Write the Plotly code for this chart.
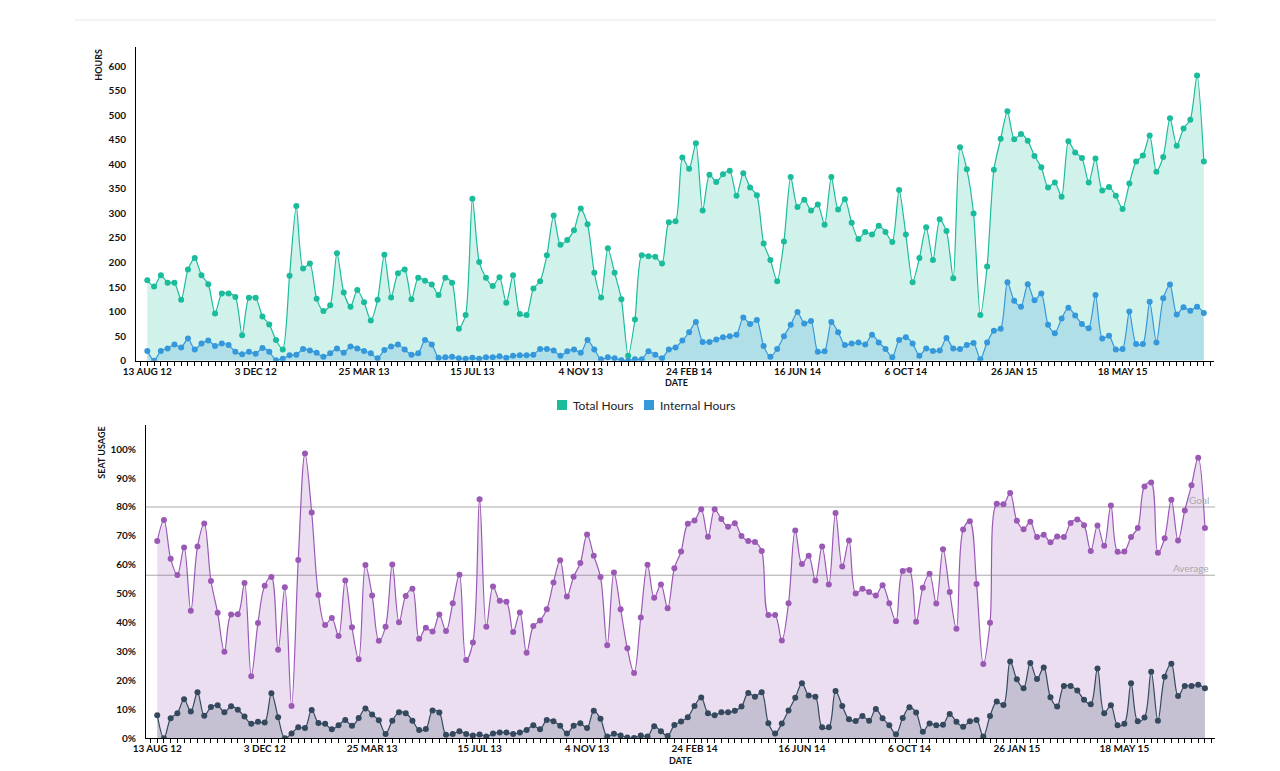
import pandas as pd
import plotly.graph_objects as go

# ---------------- data ----------------
START = "2012-08-13"
N_WEEKS = 157

total_hours = [164, 151, 174, 159, 159, 124, 186, 209, 174, 156, 96, 137, 137, 130, 52, 128, 128, 90, 74, 42,
               23, 173, 315, 188, 198, 126, 101, 113, 219, 139, 110, 144, 119, 82, 124, 216, 129, 178, 186, 125,
               169, 163, 155, 134, 169, 159, 65, 93, 330, 201, 169, 152, 170, 118, 174, 95, 93, 147, 162, 215,
               296, 236, 246, 266, 310, 278, 179, 129, 229, 179, 125, 10, 84, 215, 213, 212, 198, 282, 284, 414,
               391, 443, 306, 379, 364, 380, 387, 336, 382, 353, 337, 239, 205, 162, 243, 374, 313, 328, 306, 318,
               277, 374, 308, 329, 281, 248, 262, 257, 275, 262, 242, 348, 257, 160, 209, 272, 205, 288, 264, 168,
               435, 390, 300, 93, 192, 389, 452, 508, 451, 462, 448, 417, 394, 353, 363, 334, 447, 424, 413, 363,
               412, 347, 354, 336, 309, 361, 406, 418, 459, 385, 415, 494, 438, 473, 491, 581, 406]

internal_hours = [20, 0, 20, 25, 33, 27, 45, 23, 35, 41, 30, 35, 32, 18, 13, 18, 14, 26, 18, 1,
                  4, 11, 12, 24, 21, 16, 8, 15, 25, 16, 29, 25, 20, 15, 5, 22, 29, 33, 23, 12,
                  15, 42, 33, 6, 7, 8, 5, 4, 6, 4, 7, 7, 9, 6, 10, 11, 11, 12, 24, 24,
                  21, 10, 19, 23, 16, 42, 23, 3, 7, 5, 1, 0, 3, 3, 19, 12, 5, 23, 27, 41,
                  58, 79, 38, 38, 43, 48, 50, 53, 88, 75, 83, 30, 8, 24, 50, 73, 99, 76, 81, 18,
                  19, 79, 58, 32, 35, 37, 33, 53, 37, 24, 7, 42, 48, 35, 10, 25, 20, 21, 46, 25,
                  24, 32, 36, 3, 37, 61, 65, 160, 122, 110, 156, 123, 137, 73, 56, 86, 108, 92, 75, 66,
                  134, 45, 51, 23, 24, 100, 34, 34, 120, 37, 127, 155, 94, 109, 102, 110, 97]

seat_usage = [68.2, 75.5, 62.1, 56.5, 66.0, 44.1, 66.3, 74.3, 54.4, 43.4, 29.9, 42.8, 42.9, 53.7, 21.5, 39.9,
              52.8, 55.8, 30.6, 52.2, 11.2, 61.7, 98.5, 78.1, 49.6, 39.2, 41.6, 35.4, 54.6, 38.4, 27.3, 59.9,
              49.4, 33.7, 38.6, 60.1, 40.1, 49.2, 51.7, 34.4, 38.2, 36.9, 42.8, 37.1, 46.7, 56.6, 27.1, 33.1,
              82.7, 38.6, 52.5, 47.6, 47.2, 36.8, 43.5, 29.6, 38.8, 40.7, 44.6, 53.9, 61.6, 49.0, 55.9, 60.6,
              70.5, 63.1, 55.8, 32.2, 57.3, 44.6, 31.1, 22.6, 41.8, 60.0, 48.6, 53.2, 45.0, 58.8, 64.6, 74.2,
              75.3, 79.2, 69.7, 79.2, 75.8, 73.2, 74.4, 70.0, 68.2, 67.9, 64.8, 42.6, 42.6, 33.8, 46.7, 71.9,
              60.3, 63.1, 54.6, 66.3, 53.2, 77.9, 59.4, 68.4, 50.1, 51.7, 50.6, 49.4, 52.9, 46.7, 40.5, 57.9,
              58.2, 40.3, 52.1, 56.9, 46.6, 65.4, 50.6, 37.9, 72.2, 75.1, 53.4, 25.7, 40.0, 81.1, 80.9, 84.8,
              75.2, 72.3, 74.9, 69.6, 70.4, 67.8, 69.8, 69.6, 74.5, 75.7, 73.7, 64.8, 73.6, 66.6, 80.5, 64.5,
              64.6, 69.6, 72.7, 87.1, 88.5, 64.2, 69.2, 82.5, 68.4, 78.8, 87.5, 97.0, 72.7]

internal_usage = [8.0, 0.0, 6.9, 8.7, 13.5, 9.3, 15.9, 7.8, 10.8, 11.4, 9.0, 11.1, 9.9, 7.5, 5.0, 5.7,
                  5.5, 15.6, 7.3, 0.0, 1.7, 3.8, 3.6, 9.8, 5.3, 5.0, 3.1, 4.5, 6.3, 4.3, 7.0, 10.3,
                  8.2, 6.2, 1.5, 6.1, 9.0, 8.7, 6.1, 2.9, 3.2, 9.6, 8.9, 1.2, 1.5, 2.4, 1.5, 1.0,
                  1.3, 0.6, 1.7, 2.0, 2.0, 1.5, 2.0, 2.9, 4.5, 3.1, 6.3, 5.9, 4.3, 1.7, 4.3, 5.2,
                  3.6, 9.5, 6.8, 0.6, 1.6, 1.0, 0.3, 0.1, 1.0, 0.6, 4.2, 2.4, 0.8, 4.6, 5.8, 7.3,
                  11.2, 14.1, 8.7, 8.0, 9.0, 9.0, 9.5, 11.0, 15.7, 14.4, 15.9, 5.2, 1.7, 5.1, 9.6, 14.0,
                  19.0, 14.8, 14.4, 3.8, 3.8, 16.4, 11.2, 6.6, 6.0, 7.7, 6.1, 10.1, 6.9, 4.5, 1.4, 7.0,
                  10.7, 8.9, 2.3, 5.1, 4.5, 4.7, 8.4, 5.7, 4.0, 5.9, 6.3, 0.6, 7.7, 12.7, 11.5, 26.6,
                  20.4, 17.3, 26.0, 20.5, 24.5, 14.2, 11.0, 18.1, 18.1, 16.5, 13.3, 11.8, 24.1, 8.7, 11.4, 4.5,
                  5.0, 19.0, 5.9, 7.2, 23.0, 6.1, 21.3, 25.8, 14.6, 18.1, 18.1, 18.5, 17.3]

tick_labels = ["13 AUG 12", "3 DEC 12", "25 MAR 13", "15 JUL 13", "4 NOV 13",
               "24 FEB 14", "16 JUN 14", "6 OCT 14", "26 JAN 15", "18 MAY 15"]
hour_ticks = list(range(0, 601, 50))
usage_ticks = list(range(0, 101, 10))
usage_tick_text = [f"{v}%" for v in usage_ticks]
GOAL = 80
AVERAGE = 56.4

for s in (total_hours, internal_hours, seat_usage, internal_usage):
    assert len(s) == N_WEEKS, len(s)

weeks = pd.date_range(START, periods=N_WEEKS, freq="7D")
tick_dates = list(weeks[::16][:len(tick_labels)])

# ---------------- styling ----------------
W, H = 1280, 771
GREEN, BLUE = "#1abc9c", "#3498db"
PURPLE, DARK = "#9b59b6", "#34495e"
FONT = "Lato"
TXT = "#111111"


def px(x):
    return x / W


def py(y):
    return 1 - y / H


def fmt(ts):
    return ts.strftime("%Y-%m-%d %H:%M:%S")


x_range = [fmt(weeks[0] - pd.Timedelta(days=11.7)), fmt(weeks[-1] + pd.Timedelta(days=10.5))]

fig = go.Figure()


def series(x, y, color, rgba, xa, ya, name, smooth):
    fig.add_trace(go.Scatter(
        x=x, y=y, name=name, xaxis=xa, yaxis=ya,
        mode="lines+markers", fill="tozeroy", fillcolor=rgba,
        line=dict(color=color, width=1.2, shape="spline", smoothing=smooth),
        marker=dict(color=color, size=6),
        showlegend=False, hoverinfo="skip"))


series(weeks, total_hours, GREEN, "rgba(26,188,156,0.2)", "x", "y", "Total Hours", 0.7)
series(weeks, internal_hours, BLUE, "rgba(52,152,219,0.2)", "x", "y", "Internal Hours", 0.7)
series(weeks, seat_usage, PURPLE, "rgba(155,89,182,0.2)", "x2", "y2", "Seat Usage", 1.0)
series(weeks, internal_usage, DARK, "rgba(52,73,94,0.2)", "x2", "y2", "Internal Usage", 1.0)

tickfont = dict(family=FONT, size=10, color=TXT, weight="bold")
minor = dict(ticks="outside", ticklen=4, tickcolor="black", tickwidth=1,
             dtick=7 * 86400000, tick0=START, showgrid=False)


def xaxis(domain, anchor):
    return dict(domain=domain, anchor=anchor, type="date", range=x_range,
                tickmode="array", tickvals=tick_dates, ticktext=tick_labels,
                ticks="outside", ticklen=4, tickcolor="black", tickwidth=1,
                showline=True, linecolor="black", linewidth=1,
                showgrid=False, zeroline=False, tickfont=tickfont,
                ticklabelstandoff=-3, minor=minor, fixedrange=True, automargin=False)


def yaxis(domain, anchor, rng, tickvals, ticktext):
    return dict(domain=domain, anchor=anchor, range=rng, tickmode="array",
                tickvals=tickvals, ticktext=ticktext, ticks="",
                showline=True, linecolor="black", linewidth=1,
                showgrid=False, zeroline=False, tickfont=tickfont,
                ticklabelstandoff=7, fixedrange=True, automargin=False)


fig.update_layout(
    width=W, height=H, autosize=False,
    margin=dict(l=0, r=0, t=0, b=0, pad=0, autoexpand=False),
    paper_bgcolor="white", plot_bgcolor="white",
    font=dict(family=FONT, color=TXT),
    showlegend=False,
    xaxis=xaxis([px(136), px(1214)], "y"),
    yaxis=yaxis([py(360.7), py(47)], "x", [0, max(total_hours) * 1.1], hour_ticks,
                [str(v) for v in hour_ticks]),
    xaxis2=xaxis([px(146), px(1215)], "y2"),
    yaxis2=yaxis([py(738.3), py(425)], "x2", [0, max(seat_usage) * 1.1], usage_ticks,
                 usage_tick_text),
)

shapes = [
    dict(type="line", xref="paper", yref="paper", x0=px(75), x1=px(1216), y0=py(20), y1=py(20),
         line=dict(color="#e4e9e9", width=1)),
    dict(type="line", xref="x2 domain", yref="y2", x0=0, x1=1, y0=GOAL, y1=GOAL,
         line=dict(color="#aaaaaa", width=1), layer="below"),
    dict(type="line", xref="x2 domain", yref="y2", x0=0, x1=1, y0=AVERAGE, y1=AVERAGE,
         line=dict(color="#aaaaaa", width=1), layer="below"),
    # legend swatches
    dict(type="rect", xref="paper", yref="paper", x0=px(557), x1=px(567), y0=py(410), y1=py(400),
         fillcolor=GREEN, line=dict(width=0)),
    dict(type="rect", xref="paper", yref="paper", x0=px(644), x1=px(654), y0=py(410), y1=py(400),
         fillcolor=BLUE, line=dict(width=0)),
]
fig.update_layout(shapes=shapes)

small_bold = dict(family=FONT, size=9, color=TXT, weight="bold")
ann = [
    dict(text="HOURS", x=px(97.7), y=py(47), xref="paper", yref="paper", textangle=-90,
         xanchor="center", yanchor="top", showarrow=False, font=small_bold),
    dict(text="SEAT USAGE", x=px(100.7), y=py(425), xref="paper", yref="paper", textangle=-90,
         xanchor="center", yanchor="top", showarrow=False, font=small_bold),
    dict(text="DATE", x=px(676), y=py(382.5), xref="paper", yref="paper",
         xanchor="center", yanchor="middle", showarrow=False, font=small_bold),
    dict(text="DATE", x=px(680), y=py(760.5), xref="paper", yref="paper",
         xanchor="center", yanchor="middle", showarrow=False, font=small_bold),
    dict(text="Total Hours", x=px(570.5), y=py(405), xref="paper", yref="paper",
         xanchor="left", yanchor="middle", showarrow=False,
         font=dict(family=FONT, size=12, color="#222222")),
    dict(text="Internal Hours", x=px(657.5), y=py(405), xref="paper", yref="paper",
         xanchor="left", yanchor="middle", showarrow=False,
         font=dict(family=FONT, size=12, color="#222222")),
    dict(text="Goal", x=px(1211), y=GOAL, xref="paper", yref="y2",
         xanchor="right", yanchor="bottom", showarrow=False, yshift=-1,
         font=dict(family=FONT, size=10, color="#aaaaaa")),
    dict(text="Average", x=px(1211), y=AVERAGE, xref="paper", yref="y2",
         xanchor="right", yanchor="bottom", showarrow=False, yshift=-1,
         font=dict(family=FONT, size=10, color="#aaaaaa")),
]
fig.update_layout(annotations=ann)

fig.write_html("out.html", config={"displayModeBar": False},
               post_script="document.body.style.margin='0';document.body.style.overflow='hidden';")
